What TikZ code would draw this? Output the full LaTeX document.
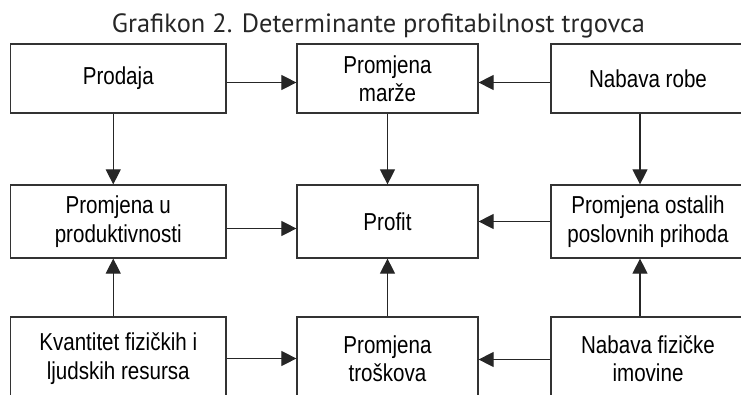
\documentclass[tikz,border=0pt]{standalone}
\usepackage{fontspec}
\setmainfont{Liberation Sans}
\newfontfamily\boxfont[FakeStretch=0.84]{Liberation Sans}
\newfontfamily\titlefont{PT Sans}
\usetikzlibrary{arrows.meta}
\tikzset{
  blok/.style={draw=black!80, line width=1.2pt, fill=white, align=center,
    inner sep=0pt, font=\boxfont\fontsize{24.5}{28.5}\selectfont},
  veza/.style={-{Triangle[length=15pt,width=15pt]}, line width=1.1pt, black!85}
}
\begin{document}
\begin{tikzpicture}[x=1pt,y=1pt]
\useasboundingbox (0,0) rectangle (741,394);
\node[anchor=base, inner sep=0pt, font=\titlefont\fontsize{26.4}{30}\selectfont, text=black!85] (naslov) at (378.5,361) {Grafikon 2. Determinante profitabilnost trgovca};

% gornji red
\node[blok, minimum width=215.5pt, minimum height=69pt] (prodaja) at (118.25,315.5) {Prodaja};
\node[blok, minimum width=181pt, minimum height=69pt] (marza) at (387.5,315.5) {Promjena\\mar\v{z}e};
\node[blok, minimum width=194pt, minimum height=69pt] (robe) at (648,315.5) {Nabava robe};

% srednji red
\node[blok, minimum width=215.5pt, minimum height=73pt] (produkt) at (118.25,172.5) {Promjena u\\produktivnosti};
\node[blok, minimum width=181pt, minimum height=73pt] (profit) at (387.5,172.5) {Profit};
\node[blok, minimum width=194pt, minimum height=73pt] (prihodi) at (648,172.5) {Promjena ostalih\\poslovnih prihoda};

% donji red
\node[blok, minimum width=215.5pt, minimum height=83pt] (resursi) at (118.25,35.5) {Kvantitet fizi\v{c}kih i\\ljudskih resursa};
\node[blok, minimum width=181pt, minimum height=83pt] (troskovi) at (387.5,35.5) {Promjena\\tro\v{s}kova};
\node[blok, minimum width=194pt, minimum height=83pt] (imovina) at (648,35.5) {Nabava fizi\v{c}ke\\imovine};

% vodoravne veze
\draw[veza] ([yshift=-4pt]prodaja.east) -- ([yshift=-4pt]marza.west);
\draw[veza] ([yshift=-4pt]robe.west) -- ([yshift=-4pt]marza.east);
\draw[veza] ([yshift=-7pt]produkt.east) -- ([yshift=-7pt]profit.west);
\draw[veza] (prihodi.west) -- (profit.east);
\draw[veza] (resursi.east) -- (troskovi.west);
\draw[veza] ([yshift=-1pt]imovina.west) -- ([yshift=-1pt]troskovi.east);

% okomite veze
\draw[veza] ([xshift=-5pt]prodaja.south) -- ([xshift=-5pt]produkt.north);
\draw[veza] (marza.south) -- (profit.north);
\draw[veza] ([xshift=-8pt]robe.south) -- ([xshift=-8pt]prihodi.north);
\draw[veza] ([xshift=-5pt]resursi.north) -- ([xshift=-5pt]produkt.south);
\draw[veza] (troskovi.north) -- (profit.south);
\draw[veza] ([xshift=-8pt]imovina.north) -- ([xshift=-8pt]prihodi.south);
\end{tikzpicture}
\end{document}
